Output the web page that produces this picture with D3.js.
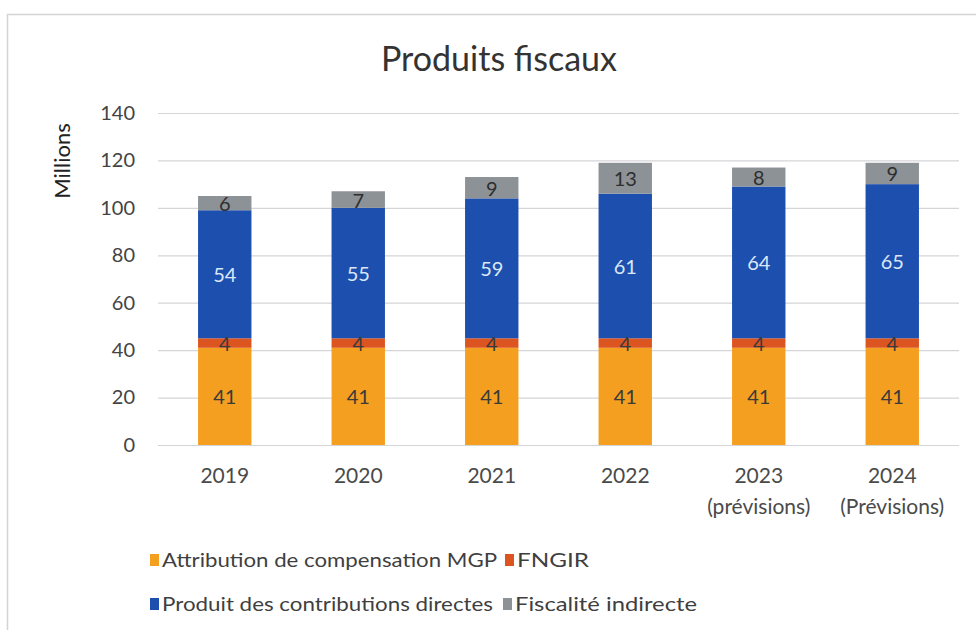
<!DOCTYPE html>
<html>
<head>
<meta charset="utf-8">
<script src="https://cdn.jsdelivr.net/npm/d3@7"></script>
<style>
  html, body { margin: 0; padding: 0; background: #fff; }
  svg { display: block; }
  text { font-family: Lato, "Open Sans", sans-serif; }
</style>
</head>
<body>
<svg id="chart" width="976" height="630"></svg>
<script>
// Fiscal revenue by year, in millions
const years = ["2019", "2020", "2021", "2022", "2023", "2024"];
const yearNotes = ["", "", "", "", "(prévisions)", "(Prévisions)"];
const seriesNames = [
  "Attribution de compensation MGP",
  "FNGIR",
  "Produit des contributions directes",
  "Fiscalité indirecte"
];
const attributionMGP = [41, 41, 41, 41, 41, 41];
const fngir = [4, 4, 4, 4, 4, 4];
const contributionsDirectes = [54, 55, 59, 61, 64, 65];
const fiscaliteIndirecte = [6, 7, 9, 13, 8, 9];
const yTicks = [0, 20, 40, 60, 80, 100, 120, 140];

const colors = ["#f59f20", "#dc5420", "#1d4faf", "#8d9297"];
const labelColors = ["#3a3a3a", "#3a3a3a", "#dbe7f7", "#2e2e2e"];

const svg = d3.select("#chart");

// chart frame
svg.append("rect")
  .attr("x", 7.5).attr("y", 14.5)
  .attr("width", 990).attr("height", 640)
  .attr("fill", "#fff")
  .attr("stroke", "#d4d4d8").attr("stroke-width", 1.5);

const plot = { left: 158, right: 959, top: 113, bottom: 445 };

const x = d3.scaleBand()
  .domain(years)
  .range([plot.left, plot.right])
  .paddingInner(0.6)
  .paddingOuter(0.3);

const y = d3.scaleLinear()
  .domain([0, 140])
  .range([plot.bottom, plot.top]);

// gridlines
const grid = d3.axisLeft(y)
  .tickValues(yTicks)
  .tickSize(-(plot.right - plot.left))
  .tickFormat("");
svg.append("g")
  .attr("transform", `translate(${plot.left},0)`)
  .call(grid)
  .call(g => g.select(".domain").remove())
  .call(g => g.selectAll("line").attr("stroke", "#d5d5d9").attr("stroke-width", 1.2));

// y tick labels
const yAxis = d3.axisLeft(y).tickValues(yTicks).tickSize(0).tickPadding(23);
svg.append("g")
  .attr("transform", `translate(${plot.left},0)`)
  .call(yAxis)
  .call(g => g.select(".domain").remove())
  .call(g => g.selectAll("text")
    .attr("fill", "#444")
    .style("font-size", "20px")
    .style("font-family", "Lato, sans-serif"));

// y axis title
svg.append("text")
  .attr("transform", "translate(70,161) rotate(-90)")
  .attr("text-anchor", "middle")
  .attr("fill", "#222")
  .style("font-size", "22px")
  .text("Millions");

// stacked data
const rows = years.map((yr, i) => ({
  year: yr,
  s0: attributionMGP[i],
  s1: fngir[i],
  s2: contributionsDirectes[i],
  s3: fiscaliteIndirecte[i]
}));
const keys = ["s0", "s1", "s2", "s3"];
const stacked = d3.stack().keys(keys)(rows);

const layers = svg.append("g").selectAll("g")
  .data(stacked)
  .join("g")
  .attr("fill", (d, i) => colors[i]);

layers.selectAll("rect")
  .data(d => d)
  .join("rect")
  .attr("x", d => x(d.data.year))
  .attr("width", x.bandwidth())
  .attr("y", d => y(d[1]))
  .attr("height", d => y(d[0]) - y(d[1]));

// value labels
stacked.forEach((layer, li) => {
  svg.append("g").selectAll("text")
    .data(layer)
    .join("text")
    .attr("x", d => x(d.data.year) + x.bandwidth() / 2)
    .attr("y", d => y((d[0] + d[1]) / 2))
    .attr("dy", "0.4em")
    .attr("text-anchor", "middle")
    .attr("fill", labelColors[li])
    .style("font-size", "20px")
    .text(d => d[1] - d[0]);
});

// x labels
const xl = svg.append("g");
years.forEach((yr, i) => {
  const cx = x(yr) + x.bandwidth() / 2;
  xl.append("text")
    .attr("x", cx).attr("y", 483)
    .attr("text-anchor", "middle")
    .attr("fill", "#4a4a4a")
    .style("font-size", "21px")
    .text(yr);
  if (yearNotes[i]) {
    xl.append("text")
      .attr("x", cx).attr("y", 514)
      .attr("text-anchor", "middle")
      .attr("fill", "#4a4a4a")
      .style("font-size", "21px")
      .text(yearNotes[i]);
  }
});

// title
svg.append("text")
  .attr("x", 499).attr("y", 71)
  .attr("text-anchor", "middle")
  .attr("fill", "#333")
  .style("font-size", "34px")
  .text("Produits fiscaux");

// legend
const legendItems = [
  { name: seriesNames[0], color: colors[0], x: 150, y: 560, w: 335 },
  { name: seriesNames[1], color: colors[1], x: 505, y: 560, w: 72 },
  { name: seriesNames[2], color: colors[2], x: 150, y: 604, w: 331 },
  { name: seriesNames[3], color: colors[3], x: 503, y: 604, w: 182 }
];
const lg = svg.append("g");
legendItems.forEach(it => {
  lg.append("rect")
    .attr("x", it.x).attr("y", it.y - 6)
    .attr("width", 9).attr("height", 12)
    .attr("fill", it.color);
  lg.append("text")
    .attr("x", it.x + 12).attr("y", it.y)
    .attr("dy", "0.36em")
    .attr("fill", "#3f3f3f")
    .attr("textLength", it.w)
    .attr("lengthAdjust", "spacingAndGlyphs")
    .style("font-size", "20px")
    .text(it.name);
});
</script>
</body>
</html>
